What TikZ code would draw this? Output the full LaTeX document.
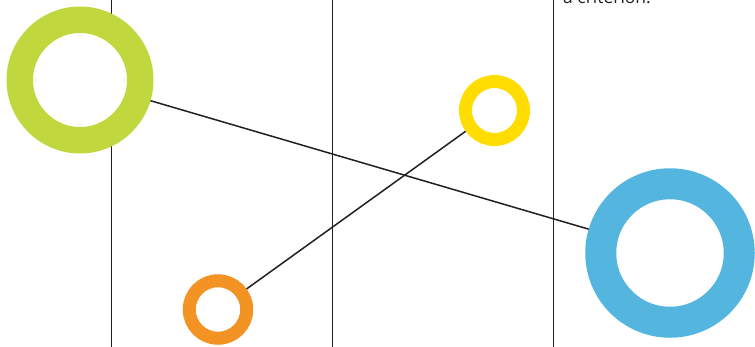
\documentclass[tikz,border=0pt]{standalone}
\usepackage{fontspec}
\setmainfont{Open Sans}
\definecolor{cgreen}{HTML}{C0D73E}
\definecolor{cblue}{HTML}{54B6DF}
\definecolor{corange}{HTML}{F39323}
\definecolor{cyellow}{HTML}{FFDD00}
\definecolor{cline}{HTML}{231F20}
\begin{document}
\begin{tikzpicture}[x=1pt,y=-1pt,
  grid/.style={draw=cline,line width=0.9pt},
  link/.style={draw=cline,line width=1.5pt},
  ring/.style={circle,inner sep=0pt,fill=white,draw=#1}]
\useasboundingbox (0,0) rectangle (755,346);
\coordinate (l1t) at (111,-5); \coordinate (l1b) at (111,351);
\coordinate (l2t) at (332,-5); \coordinate (l2b) at (332,351);
\coordinate (l3t) at (553,-5); \coordinate (l3b) at (553,351);
\draw[grid] (l1t) -- (l1b);
\draw[grid] (l2t) -- (l2b);
\draw[grid] (l3t) -- (l3b);
\node[anchor=base west,font=\fontsize{17.5}{20}\selectfont,text=cline,inner sep=0pt] (txt) at (563,3.5) {a criterion.};
\coordinate (gc) at (80,80);
\coordinate (bc) at (670,253);
\coordinate (oc) at (218,309.5);
\coordinate (yc) at (494.5,110.5);
\draw[link] (gc) -- (bc);
\draw[link] (oc) -- (yc);
\node[ring=cgreen,line width=26.5pt,minimum size=120.5pt] (green) at (gc) {};
\node[ring=cblue,line width=31pt,minimum size=138.5pt] (blue) at (bc) {};
\node[ring=corange,line width=13pt,minimum size=57.5pt] (orange) at (oc) {};
\node[ring=cyellow,line width=13pt,minimum size=58pt] (yellow) at (yc) {};
\end{tikzpicture}
\end{document}
